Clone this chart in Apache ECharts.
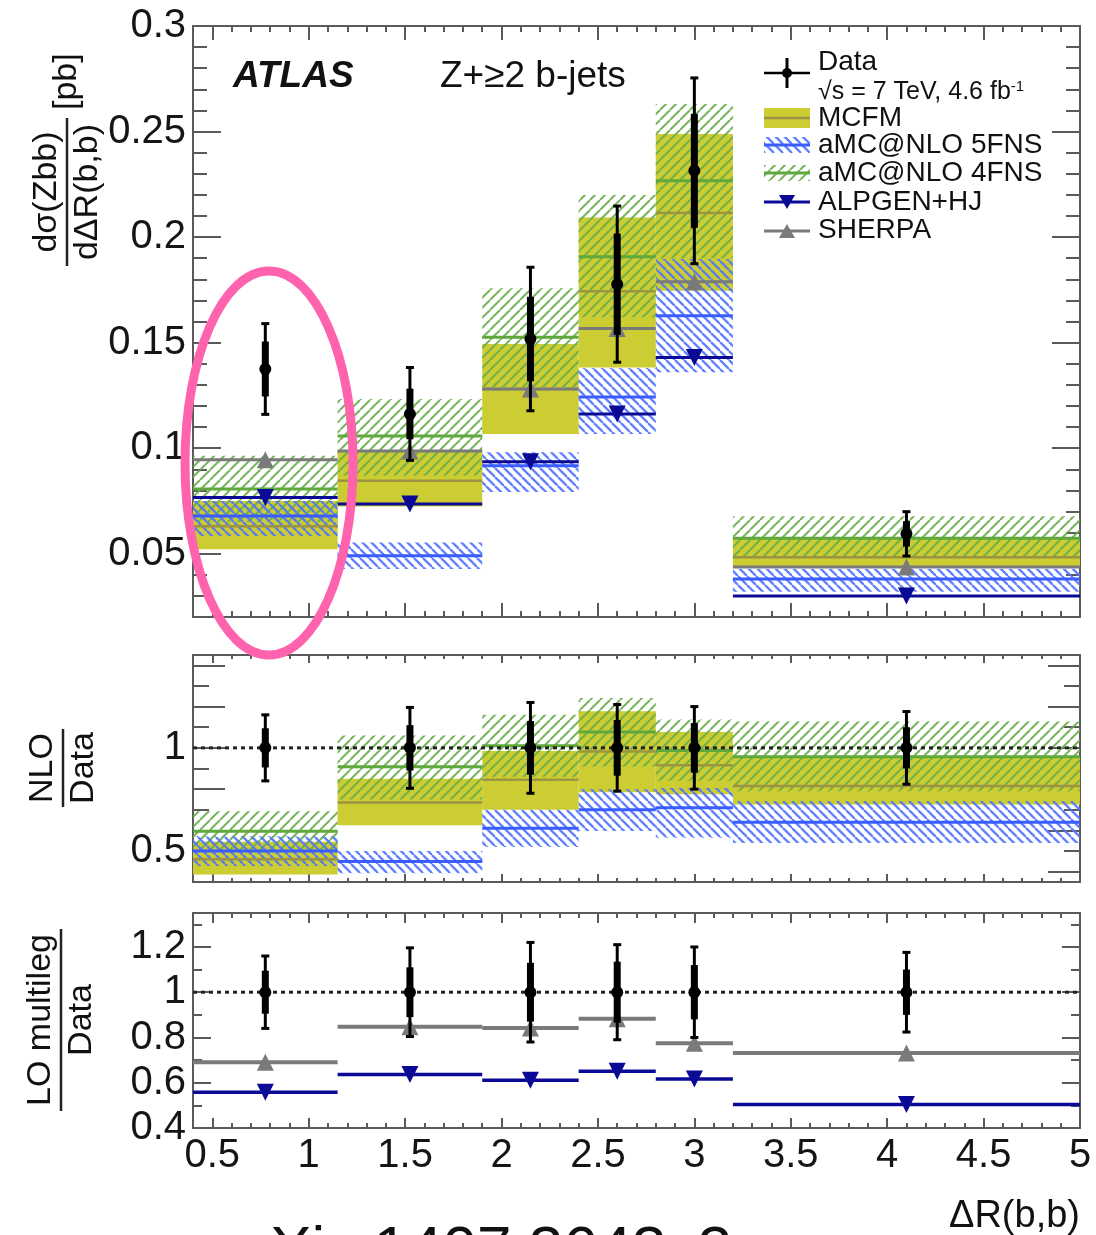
<!DOCTYPE html>
<html><head><meta charset="utf-8">
<script src="https://cdn.jsdelivr.net/npm/echarts@6/dist/echarts.min.js"></script>
<style>html,body{margin:0;padding:0;background:#fff}#c{width:1096px;height:1235px}</style>
</head><body><div id="c"></div>
<script>
// ---------------- data ----------------
const binEdges = [0.4, 1.15, 1.9, 2.4, 2.8, 3.2, 5.0];
const pointX   = [0.775, 1.525, 2.15, 2.6, 3.0, 4.1];

// top panel: dsigma/dDeltaR [pb]
const dataVal  = [0.1375, 0.1162, 0.1517, 0.1777, 0.2314, 0.0594];
const dataStat = [0.013, 0.012, 0.020, 0.024, 0.027, 0.006];
const dataTot  = [0.0215, 0.022, 0.034, 0.037, 0.044, 0.0105];

const mcfmMid = [0.063, 0.0845, 0.128, 0.1743, 0.2114, 0.0483];
const mcfmLo  = [0.0521, 0.0724, 0.1067, 0.1382, 0.1746, 0.044];
const mcfmHi  = [0.075, 0.0987, 0.1493, 0.2093, 0.2488, 0.0573];

const amc4Mid = [0.0806, 0.1058, 0.1525, 0.1907, 0.2267, 0.0573];
const amc4Lo  = [0.065, 0.087, 0.129, 0.162, 0.190, 0.048];
const amc4Hi  = [0.0964, 0.1233, 0.1757, 0.2199, 0.263, 0.0677];

const amc5Mid = [0.0679, 0.049, 0.0917, 0.1242, 0.1627, 0.038];
const amc5Lo  = [0.0584, 0.0427, 0.0792, 0.1067, 0.1359, 0.032];
const amc5Hi  = [0.075, 0.0553, 0.098, 0.138, 0.1896, 0.0428];

const alpgenVal = [0.0766, 0.0735, 0.0935, 0.1162, 0.143, 0.030];
const sherpaVal = [0.0945, 0.0987, 0.128, 0.1567, 0.1788, 0.0437];

// middle panel: NLO / Data
const rDataStat = [0.095, 0.11, 0.13, 0.135, 0.12, 0.10];
const rDataTot  = [0.16, 0.196, 0.22, 0.21, 0.20, 0.176];
const rMcfmMid = [0.46, 0.735, 0.845, 0.982, 0.916, 0.815];
const rMcfmLo  = [0.386, 0.625, 0.70, 0.785, 0.775, 0.726];
const rMcfmHi  = [0.545, 0.85, 0.985, 1.177, 1.077, 0.953];
const rAmc4Mid = [0.596, 0.908, 1.01, 1.077, 0.987, 0.957];
const rAmc4Lo  = [0.50, 0.75, 0.86, 0.91, 0.84, 0.79];
const rAmc4Hi  = [0.693, 1.06, 1.16, 1.242, 1.137, 1.128];
const rAmc5Mid = [0.50, 0.449, 0.61, 0.70, 0.71, 0.64];
const rAmc5Lo  = [0.427, 0.393, 0.52, 0.597, 0.565, 0.539];
const rAmc5Hi  = [0.572, 0.50, 0.70, 0.80, 0.806, 0.743];

// bottom panel: LO multileg / Data
const rAlpgen = [0.558, 0.636, 0.611, 0.651, 0.616, 0.504];
const rSherpa = [0.691, 0.847, 0.842, 0.883, 0.775, 0.731];

// tick labels
const xLabels    = [0.5, 1, 1.5, 2, 2.5, 3, 3.5, 4, 4.5, 5];
const topYLabels = [0.05, 0.1, 0.15, 0.2, 0.25, 0.3];
const midYLabels = [0.5, 1];
const botYLabels = [0.4, 0.6, 0.8, 1, 1.2];

// ---------------- styling ----------------
function range(a, b, s) { const r = []; for (let v = a; v <= b + 1e-9; v += s) r.push(Math.round(v * 1000) / 1000); return r; }
const FONT = 'Liberation Sans, Arial, Helvetica, sans-serif';
const AX = '#5a5a5a';
const YEL = '#cccc33', MCFM_LINE = '#9c9440', GRN = '#5ea83c', BLU = '#3a5dff', NAVY = '#0a0a96', GRAY = '#7a7a7a';

function hatch(color, dir, s, lw) {
  const c = document.createElement('canvas'); c.width = s; c.height = s;
  const g = c.getContext('2d'); g.strokeStyle = color; g.lineWidth = lw;
  for (const k of [-s, 0, s]) {
    g.beginPath();
    if (dir > 0) { g.moveTo(k, s); g.lineTo(k + s, 0); } else { g.moveTo(k, 0); g.lineTo(k + s, s); }
    g.stroke();
  }
  return c;
}
const greenPat = { image: hatch('rgba(104,172,72,0.9)', 1, 10, 2), repeat: 'repeat' };
const bluePat  = { image: hatch('rgba(80,115,255,0.9)', -1, 9, 2.3), repeat: 'repeat' };

const fmt = v => String(Math.round(v * 100) / 100);
const L = 193, W = 887;
const grids = [
  { left: L, top: 26, width: W, height: 591 },
  { left: L, top: 655, width: W, height: 227 },
  { left: L, top: 913, width: W, height: 215 }
];
const yRanges = [[0.02, 0.3], [0.35, 1.45], [0.4, 1.35]];
const yMajors = [topYLabels, range(0.4, 1.4, 0.2), range(0.4, 1.2, 0.2)];
const yMinors = [range(0.02, 0.3, 0.01), range(0.4, 1.4, 0.1), range(0.4, 1.3, 0.1)];
const yLabs = [topYLabels, midYLabels, botYLabels];
const yLens = [[28, 14], [32, 16], [18, 9]];
const xLens = [[14, 6], [8, 4], [10, 5]];
const xMinor = range(0.4, 5.0, 0.1);

function axisPair(gi, pos, min, max, majors, minors, majLen, minLen, labelVals, margin) {
  const base = { type: 'value', gridIndex: gi, position: pos, min, max, splitLine: { show: false }, silent: true };
  const major = Object.assign({}, base, {
    axisLine: { show: true, onZero: false, lineStyle: { color: AX, width: 2 } },
    axisTick: { show: true, inside: true, length: majLen, customValues: majors, lineStyle: { color: AX, width: 2 } },
    axisLabel: labelVals ? { show: true, customValues: labelVals, margin, fontSize: 40, fontFamily: FONT, color: '#151515', formatter: fmt } : { show: false }
  });
  const minor = Object.assign({}, base, {
    axisLine: { show: false, onZero: false },
    axisTick: { show: true, inside: true, length: minLen, customValues: minors, lineStyle: { color: AX, width: 2 } },
    axisLabel: { show: false }
  });
  return [major, minor];
}
const xAxes = [], yAxes = [];
for (let gi = 0; gi < 3; gi++) {
  xAxes.push(...axisPair(gi, 'bottom', 0.4, 5.0, xLabels, xMinor, xLens[gi][0], xLens[gi][1], gi === 2 ? xLabels : null, 8));
  xAxes.push(...axisPair(gi, 'top', 0.4, 5.0, xLabels, xMinor, xLens[gi][0], xLens[gi][1], null));
  yAxes.push(...axisPair(gi, 'left', yRanges[gi][0], yRanges[gi][1], yMajors[gi], yMinors[gi], yLens[gi][0], yLens[gi][1], yLabs[gi], 7));
  yAxes.push(...axisPair(gi, 'right', yRanges[gi][0], yRanges[gi][1], yMajors[gi], yMinors[gi], yLens[gi][0], yLens[gi][1], null));
}

function bandSer(gi, lo, hi, fill, z) {
  return {
    type: 'custom', xAxisIndex: gi * 4, yAxisIndex: gi * 4, clip: true, z, silent: true,
    data: lo.map((v, i) => [binEdges[i], binEdges[i + 1], lo[i], hi[i]]),
    encode: { x: [0, 1], y: [2, 3] },
    renderItem: (p, api) => {
      const a = api.coord([api.value(0), api.value(3)]);
      const b = api.coord([api.value(1), api.value(2)]);
      return { type: 'rect', shape: { x: a[0], y: a[1], width: b[0] - a[0], height: b[1] - a[1] }, style: { fill } };
    }
  };
}
function lineSer(gi, vals, color, width, z) {
  return {
    type: 'custom', xAxisIndex: gi * 4, yAxisIndex: gi * 4, clip: true, z, silent: true,
    data: vals.map((v, i) => [binEdges[i], binEdges[i + 1], v]),
    encode: { x: [0, 1], y: 2 },
    renderItem: (p, api) => {
      const a = api.coord([api.value(0), api.value(2)]);
      const b = api.coord([api.value(1), api.value(2)]);
      return { type: 'line', shape: { x1: a[0], y1: a[1], x2: b[0], y2: b[1] }, style: { stroke: color, lineWidth: width } };
    }
  };
}
function markSer(gi, vals, color, rot, size, z) {
  return {
    type: 'scatter', xAxisIndex: gi * 4, yAxisIndex: gi * 4, z, silent: true,
    symbol: 'triangle', symbolSize: size, symbolRotate: rot,
    itemStyle: { color, opacity: 1 },
    data: vals.map((v, i) => [pointX[i], v])
  };
}
function dataSer(gi, vals, stat, tot, z) {
  return {
    type: 'custom', xAxisIndex: gi * 4, yAxisIndex: gi * 4, z, silent: true,
    data: vals.map((v, i) => [pointX[i], v, stat[i], tot[i]]),
    encode: { x: 0, y: 1 },
    renderItem: (p, api) => {
      const x = api.value(0), y = api.value(1), s = api.value(2), t = api.value(3);
      const c = api.coord([x, y]), tt = api.coord([x, y + t]), tb = api.coord([x, y - t]);
      const st = api.coord([x, y + s]), sb = api.coord([x, y - s]);
      const k = '#000';
      return { type: 'group', children: [
        { type: 'line', shape: { x1: c[0], y1: tt[1], x2: c[0], y2: tb[1] }, style: { stroke: k, lineWidth: 3 } },
        { type: 'line', shape: { x1: c[0], y1: st[1], x2: c[0], y2: sb[1] }, style: { stroke: k, lineWidth: 7 } },
        { type: 'line', shape: { x1: c[0] - 4, y1: tt[1], x2: c[0] + 4, y2: tt[1] }, style: { stroke: k, lineWidth: 3 } },
        { type: 'line', shape: { x1: c[0] - 4, y1: tb[1], x2: c[0] + 4, y2: tb[1] }, style: { stroke: k, lineWidth: 3 } },
        { type: 'circle', shape: { cx: c[0], cy: c[1], r: 6 }, style: { fill: k } }
      ] };
    }
  };
}
function unitLine(gi) {
  return {
    type: 'line', xAxisIndex: gi * 4, yAxisIndex: gi * 4, z: 9, silent: true, symbol: 'none',
    lineStyle: { color: '#222', width: 3, type: [4, 4] },
    data: [[0.4, 1], [5.0, 1]]
  };
}
const ones = dataVal.map(() => 1);

const series = [
  // top
  bandSer(0, mcfmLo, mcfmHi, YEL, 1),
  bandSer(0, amc4Lo, amc4Hi, greenPat, 2),
  bandSer(0, amc5Lo, amc5Hi, bluePat, 3),
  lineSer(0, mcfmMid, MCFM_LINE, 2.5, 4),
  lineSer(0, amc4Mid, GRN, 3, 5),
  lineSer(0, amc5Mid, BLU, 3, 6),
  lineSer(0, alpgenVal, NAVY, 3, 7),
  lineSer(0, sherpaVal, GRAY, 3, 8),
  markSer(0, alpgenVal, NAVY, 180, 17, 9),
  markSer(0, sherpaVal, GRAY, 0, 17, 9),
  dataSer(0, dataVal, dataStat, dataTot, 10),
  // middle
  bandSer(1, rMcfmLo, rMcfmHi, YEL, 1),
  bandSer(1, rAmc4Lo, rAmc4Hi, greenPat, 2),
  bandSer(1, rAmc5Lo, rAmc5Hi, bluePat, 3),
  lineSer(1, rMcfmMid, MCFM_LINE, 2.5, 4),
  lineSer(1, rAmc4Mid, GRN, 3, 5),
  lineSer(1, rAmc5Mid, BLU, 3, 6),
  unitLine(1),
  dataSer(1, ones, rDataStat, rDataTot, 10),
  // bottom
  lineSer(2, rSherpa, GRAY, 4, 7),
  lineSer(2, rAlpgen, NAVY, 3.5, 7),
  markSer(2, rAlpgen, NAVY, 180, 17, 9),
  markSer(2, rSherpa, GRAY, 0, 17, 9),
  unitLine(2),
  dataSer(2, ones, rDataStat, rDataTot, 10)
];

function txt(x, y, text, size, opts) {
  return Object.assign({ type: 'text', x, y, z: 50, style: Object.assign({
    text, fontSize: size, fontFamily: FONT, fill: '#111',
    align: 'left', textAlign: 'left', verticalAlign: 'middle', textVerticalAlign: 'middle'
  }, opts || {}) });
}
function frac(cx, cy, num, den, barLen, size, extra) {
  const children = [
    { type: 'text', x: 0, y: -3, style: { text: num, fontSize: size, fontFamily: FONT, fill: '#111', align: 'center', textAlign: 'center', verticalAlign: 'bottom', textVerticalAlign: 'bottom' } },
    { type: 'line', shape: { x1: -barLen / 2, y1: 0, x2: barLen / 2, y2: 0 }, style: { stroke: '#222', lineWidth: 2.5 } },
    { type: 'text', x: 0, y: 4, style: { text: den, fontSize: size, fontFamily: FONT, fill: '#111', align: 'center', textAlign: 'center', verticalAlign: 'top', textVerticalAlign: 'top' } }
  ];
  if (extra) children.push({ type: 'text', x: barLen / 2 + 8, y: 0, style: { text: extra, fontSize: size, fontFamily: FONT, fill: '#111', align: 'left', textAlign: 'left', verticalAlign: 'middle', textVerticalAlign: 'middle' } });
  return { type: 'group', x: cx, y: cy, rotation: Math.PI / 2, z: 50, children };
}
const LX0 = 764, LX1 = 810, LXC = 787, LT = 818;
const graphic = [
  txt(233, 77, 'ATLAS', 37, { fontWeight: 'bold', fontStyle: 'italic' }),
  txt(440, 77, 'Z+≥2 b-jets', 37),
  // legend
  { type: 'line', z: 50, shape: { x1: LX0, y1: 73, x2: LX1, y2: 73 }, style: { stroke: '#000', lineWidth: 2.5 } },
  { type: 'line', z: 50, shape: { x1: LXC, y1: 58, x2: LXC, y2: 88 }, style: { stroke: '#000', lineWidth: 3 } },
  { type: 'circle', z: 51, shape: { cx: LXC, cy: 73, r: 5 }, style: { fill: '#000' } },
  txt(LT, 62, 'Data', 28),
  txt(LT, 92, '√s = 7 TeV, 4.6 fb{sup|-1}', 25, { rich: { sup: { fontSize: 15, fontFamily: FONT, verticalAlign: 'top', fill: '#111' } } }),
  { type: 'rect', z: 50, shape: { x: LX0, y: 108, width: LX1 - LX0, height: 20 }, style: { fill: YEL } },
  { type: 'line', z: 51, shape: { x1: LX0, y1: 118, x2: LX1, y2: 118 }, style: { stroke: MCFM_LINE, lineWidth: 2.5 } },
  txt(LT, 118, 'MCFM', 28),
  { type: 'rect', z: 50, shape: { x: LX0, y: 137, width: LX1 - LX0, height: 16 }, style: { fill: bluePat } },
  { type: 'line', z: 51, shape: { x1: LX0, y1: 145, x2: LX1, y2: 145 }, style: { stroke: BLU, lineWidth: 3 } },
  txt(LT, 145, 'aMC@NLO 5FNS', 28),
  { type: 'rect', z: 50, shape: { x: LX0, y: 165, width: LX1 - LX0, height: 16 }, style: { fill: greenPat } },
  { type: 'line', z: 51, shape: { x1: LX0, y1: 173, x2: LX1, y2: 173 }, style: { stroke: GRN, lineWidth: 3 } },
  txt(LT, 173, 'aMC@NLO 4FNS', 28),
  { type: 'line', z: 50, shape: { x1: LX0, y1: 202, x2: LX1, y2: 202 }, style: { stroke: NAVY, lineWidth: 3 } },
  { type: 'polygon', z: 51, shape: { points: [[LXC - 8, 195], [LXC + 8, 195], [LXC, 209]] }, style: { fill: NAVY } },
  txt(LT, 202, 'ALPGEN+HJ', 28),
  { type: 'line', z: 50, shape: { x1: LX0, y1: 231, x2: LX1, y2: 231 }, style: { stroke: GRAY, lineWidth: 3 } },
  { type: 'polygon', z: 51, shape: { points: [[LXC - 8, 238], [LXC + 8, 238], [LXC, 224]] }, style: { fill: GRAY } },
  txt(LT, 230, 'SHERPA', 28),
  // axis titles
  frac(67, 192, 'dσ(Zbb)', 'dΔR(b,b)', 148, 34, '[pb]'),
  frac(63, 768, 'NLO', 'Data', 78, 34),
  frac(61, 1020, 'LO multileg', 'Data', 182, 34),
  txt(1080, 1217, 'ΔR(b,b)', 38, { align: 'right', textAlign: 'right' }),
  txt(215, 1252, 'arXiv:1407.3643v2', 62),
  // annotation
  { type: 'ellipse', z: 100, shape: { cx: 269, cy: 463, rx: 84, ry: 192 }, style: { fill: 'none', stroke: '#ff63ad', lineWidth: 9 } }
];

const chart = echarts.init(document.getElementById('c'), null, { renderer: 'canvas' });
chart.setOption({
  animation: false,
  backgroundColor: '#fff',
  grid: grids,
  xAxis: xAxes,
  yAxis: yAxes,
  series,
  graphic
});
</script>
</body></html>
